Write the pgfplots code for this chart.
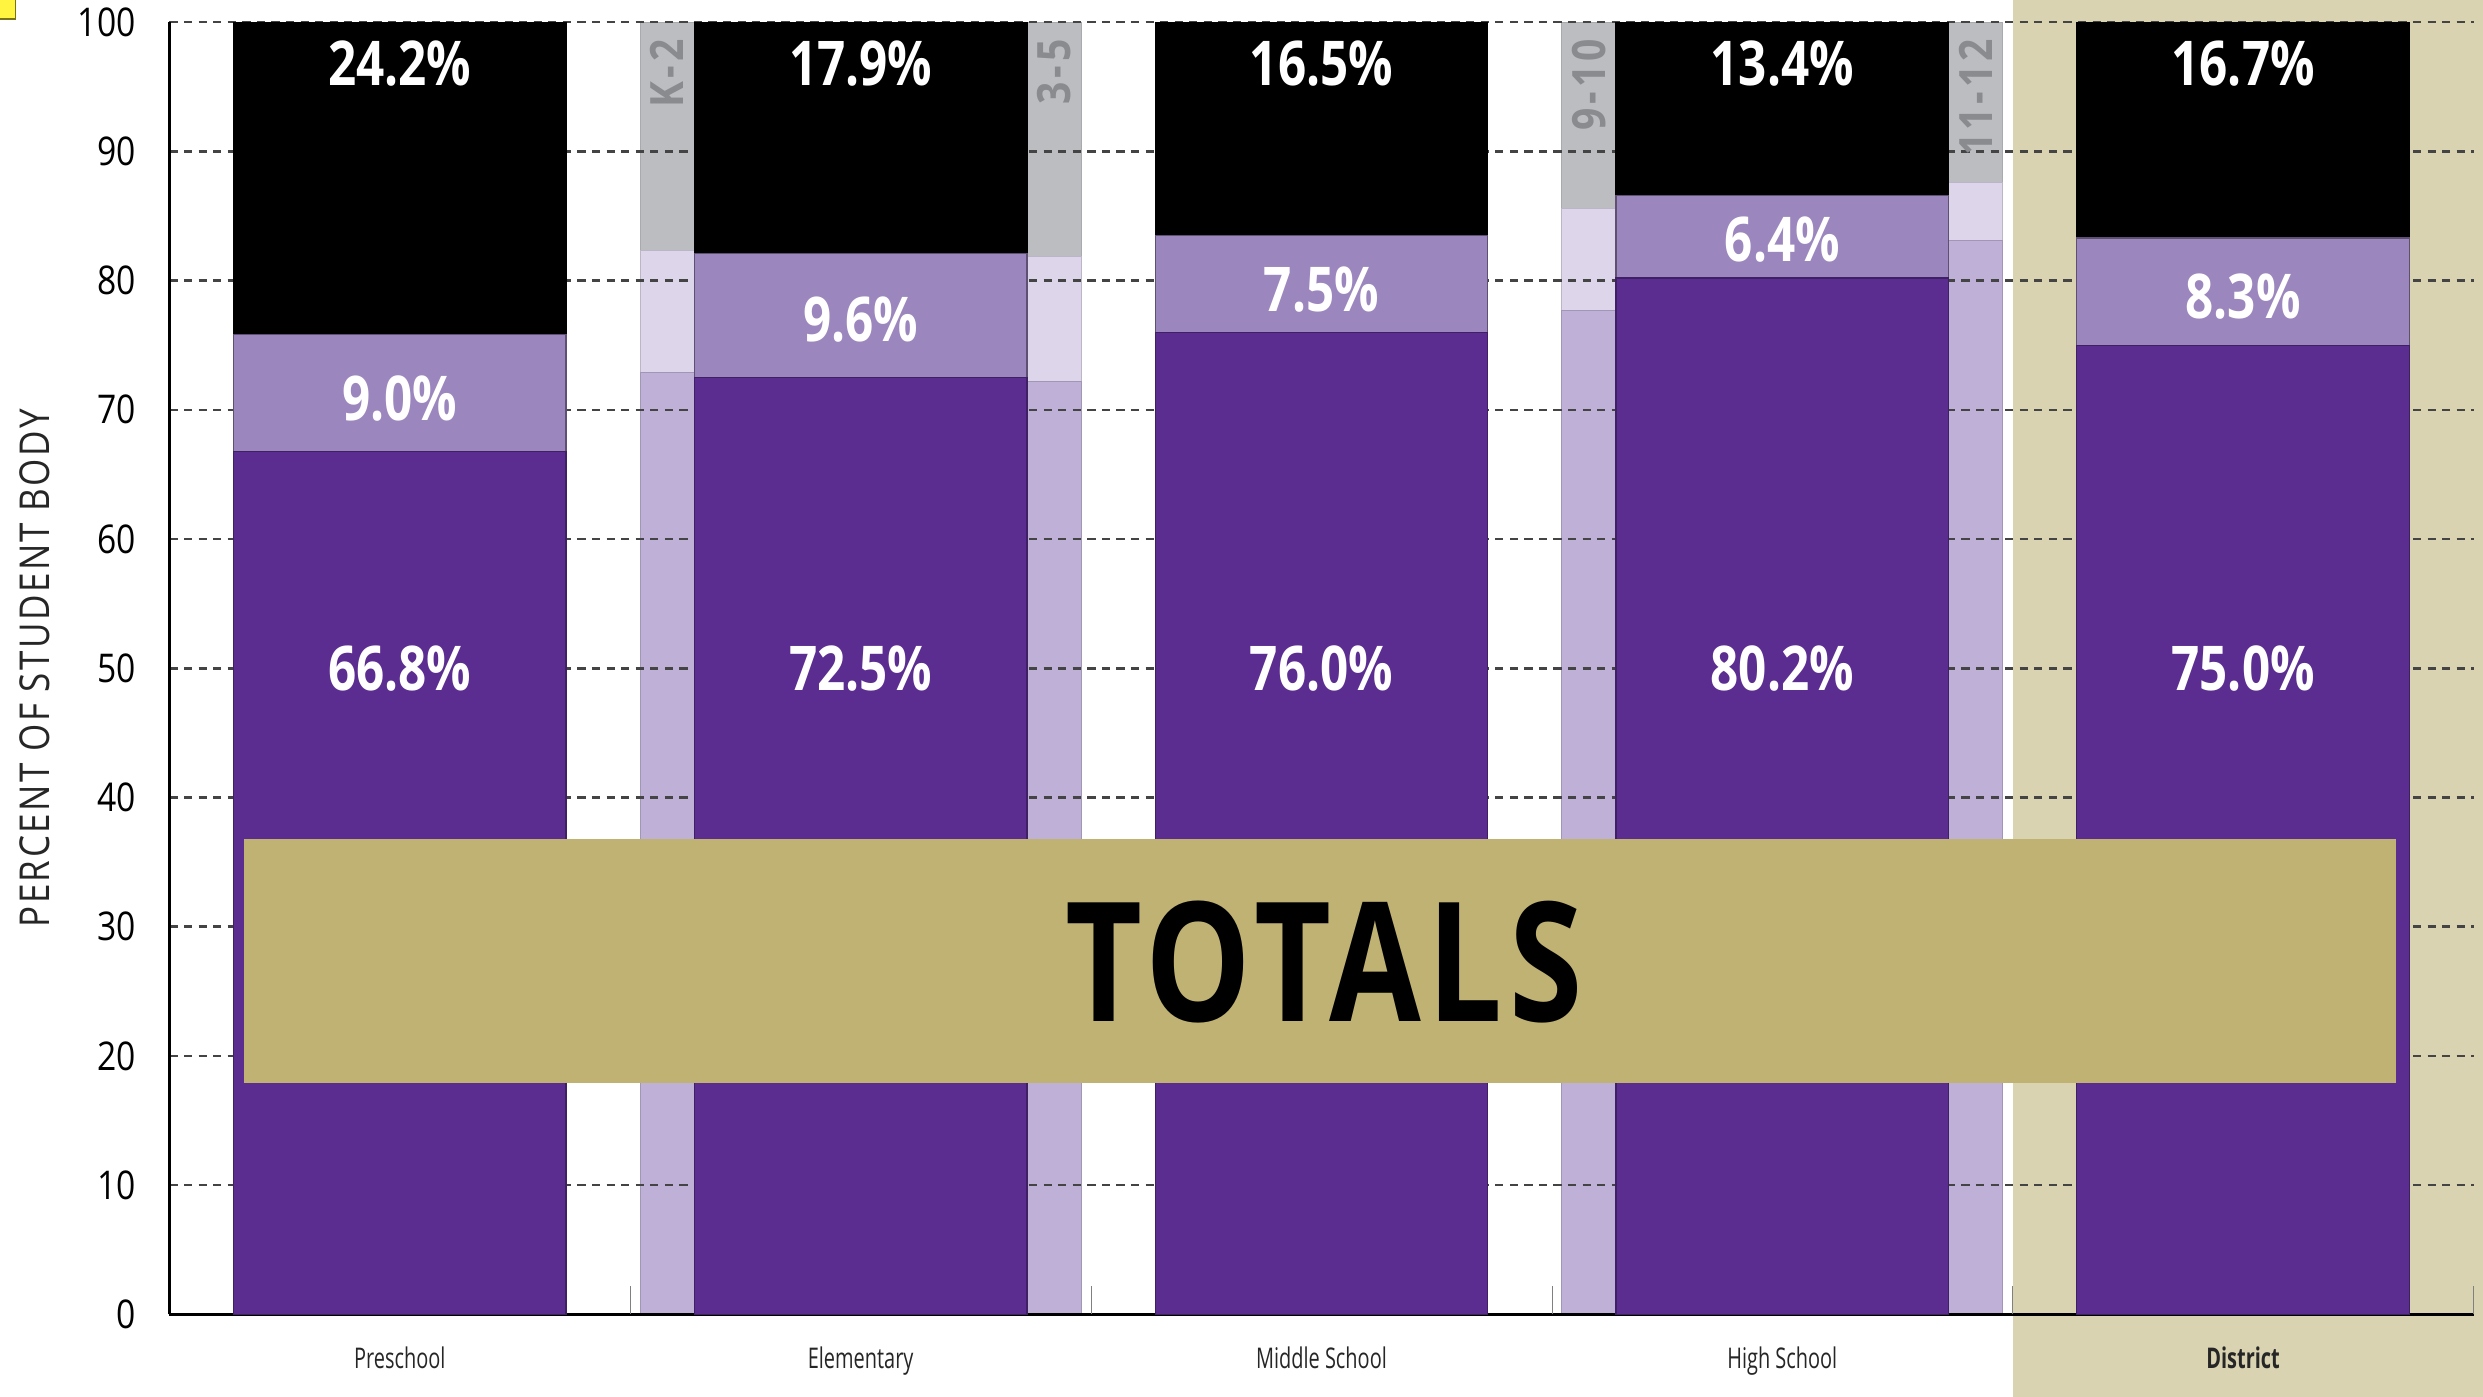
\documentclass[border=0pt]{standalone}
\usepackage{pgfplots}
\usepackage{pgfplotstable}
\pgfplotsset{compat=1.18}
\usepackage{fontspec}
\setmainfont{Open Sans}[FakeStretch=0.85]
\newfontfamily\lblfont{Open Sans}[FakeStretch=0.8]
\newfontfamily\nfont{Open Sans}[FakeStretch=0.85, LetterSpace=8]
\newfontfamily\catfont{Open Sans}[FakeStretch=0.7]
\newfontfamily\ylfont{Open Sans}[FakeStretch=0.85, LetterSpace=6]
\newfontfamily\totfont{Open Sans}[FakeStretch=0.8, LetterSpace=4]

\definecolor{dpurple}{HTML}{5C2D91}
\definecolor{mlav}{HTML}{9C86BE}
\definecolor{lpur}{HTML}{BFB0D7}
\definecolor{plav}{HTML}{DDD5EA}
\definecolor{ngray}{HTML}{BCBDC1}
\definecolor{ntext}{HTML}{8A8B8F}
\definecolor{tanbg}{HTML}{D9D3B1}
\definecolor{banner}{HTML}{BFB273}
\definecolor{gridc}{HTML}{444444}

\pgfplotstableread{
x a b c
0 66.8 9.0 24.2
1 72.5 9.6 17.9
2 76.0 7.5 16.5
3 80.2 6.4 13.4
4 75.0 8.3 16.7
}\maintab
\pgfplotstableread{
x a b c
0.58 72.9 9.4 17.7
1.42 72.2 9.7 18.1
2.58 77.7 7.9 14.4
3.42 83.1 4.5 12.4
}\narrowtab

\tikzset{
  nlab/.style={rotate=90, anchor=east, text=ntext, font=\nfont\bfseries\fontsize{14.5}{15}\selectfont, inner sep=0pt},
  vlab/.style={text=white, font=\lblfont\bfseries\fontsize{19.5}{20}\selectfont, inner sep=0pt}
}
\pgfplotsset{common/.style={scale only axis, width=727.5pt, height=408pt,
  xmin=-0.5, xmax=4.5, ymin=0, ymax=100, enlargelimits=false, clip=false,
  at={(0,0)}, anchor=south west}}

\begin{document}
\begin{tikzpicture}
\begin{axis}[common,
  axis on top, axis lines*=left, axis line style={-, black, line width=0.8pt},
  ymajorgrids, grid style={gridc, line width=0.8pt, dash pattern=on 2.6pt off 2pt},
  ytick={0,10,...,100},
  yticklabels={0,10,20,30,40,50,60,70,80,90,100},
  xtick={0,...,4},
  xticklabels={Preschool,Elementary,Middle School,High School,{\bfseries District}},
  major tick length=0pt,
  extra x ticks={0.5,1.5,2.5,3.5,4.5}, extra x tick labels={},
  extra x tick style={major tick length=9pt, tick align=inside},
  yticklabel style={font=\fontsize{12.5}{13}\selectfont, inner sep=0pt, xshift=-10.5pt, text=black},
  xticklabel style={font=\catfont\fontsize{9}{10}\selectfont, inner sep=0pt, yshift=-10pt, text=black!85},
  ybar stacked, bar width=17pt,
]
\fill[tanbg] (axis cs:3.5,-7) rectangle (axis cs:4.6,103);
\addplot[fill=lpur, draw=lpur!85!black, line width=0.3pt] table[x=x,y=a]{\narrowtab};
\addplot[fill=plav, draw=plav!85!black, line width=0.3pt] table[x=x,y=b]{\narrowtab};
\addplot[fill=ngray, draw=ngray!90!black, line width=0.3pt] table[x=x,y=c]{\narrowtab};
\end{axis}

\begin{axis}[common, hide axis, ybar stacked, bar width=105pt]
\addplot[fill=dpurple, draw=dpurple!70!black, line width=0.4pt] table[x=x,y=a]{\maintab};
\addplot[fill=mlav, draw=mlav!60!black, line width=0.4pt] table[x=x,y=b]{\maintab};
\addplot[fill=black, draw=black, line width=0.4pt] table[x=x,y=c]{\maintab};
\end{axis}

\begin{axis}[common, hide axis]
\node[nlab] at (axis cs:0.58,98.7) {K-2};
\node[nlab] at (axis cs:1.42,98.7) {3-5};
\node[nlab] at (axis cs:2.58,98.7) {9-10};
\node[nlab] at (axis cs:3.42,98.7) {11-12};
\node[vlab] at (axis cs:0,96.8) {24.2\%};
\node[vlab] at (axis cs:1,96.8) {17.9\%};
\node[vlab] at (axis cs:2,96.8) {16.5\%};
\node[vlab] at (axis cs:3,96.8) {13.4\%};
\node[vlab] at (axis cs:4,96.8) {16.7\%};
\node[vlab] at (axis cs:0,70.9) {9.0\%};
\node[vlab] at (axis cs:1,77.0) {9.6\%};
\node[vlab] at (axis cs:2,79.3) {7.5\%};
\node[vlab] at (axis cs:3,83.2) {6.4\%};
\node[vlab] at (axis cs:4,78.8) {8.3\%};
\node[vlab] at (axis cs:0,50) {66.8\%};
\node[vlab] at (axis cs:1,50) {72.5\%};
\node[vlab] at (axis cs:2,50) {76.0\%};
\node[vlab] at (axis cs:3,50) {80.2\%};
\node[vlab] at (axis cs:4,50) {75.0\%};
\fill[banner] (axis cs:-0.3385,17.9) rectangle (axis cs:4.3316,36.76);
\node[font=\totfont\bfseries\fontsize{52.5}{53}\selectfont, text=black, inner sep=0pt] at (axis cs:2.005,27.3) {TOTALS};
\end{axis}

\node[rotate=90, font=\ylfont\fontsize{13}{14}\selectfont, text=black!85] at (-42.5pt,204pt) {PERCENT OF STUDENT BODY};
\filldraw[fill=yellow!75, draw=olive!80!black, line width=0.4pt] (-53.8pt,409pt) rectangle (-48.5pt,415.5pt);
\pgfresetboundingbox
\path[use as bounding box] (-53.5pt,-26pt) rectangle (730.5pt,415pt);
\end{tikzpicture}
\end{document}
